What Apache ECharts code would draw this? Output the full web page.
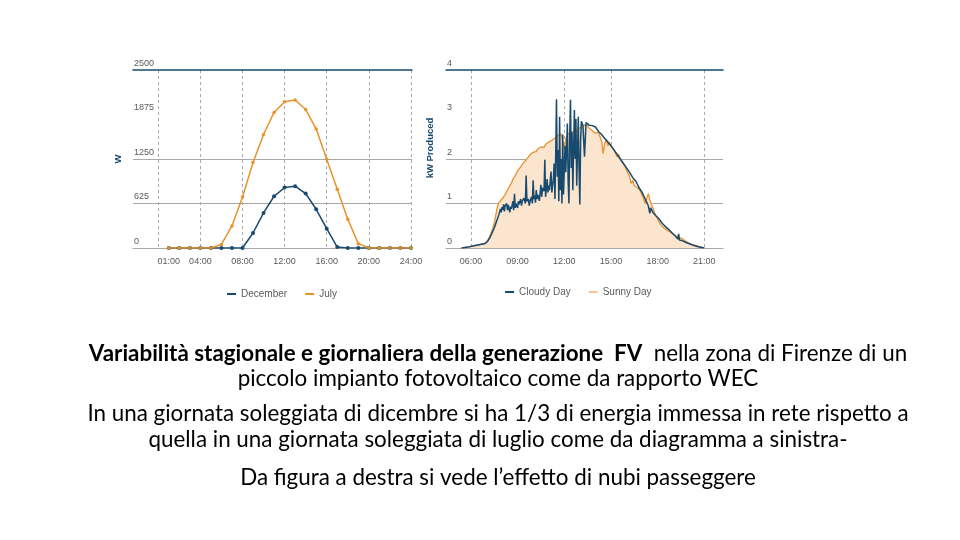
<!DOCTYPE html>
<html>
<head>
<meta charset="utf-8">
<script src="https://cdn.jsdelivr.net/npm/echarts@6.0.0/dist/echarts.min.js"></script>
<style>
  html, body { margin: 0; padding: 0; background: #ffffff; }
  #chart { width: 960px; height: 540px; }
</style>
</head>
<body>
<div id="chart"></div>
<script>
  // grafico a sinistra: produzione oraria (W)
  const hours = [1, 2, 3, 4, 5, 6, 7, 8, 9, 10, 11, 12, 13, 14, 15, 16, 17, 18, 19, 20, 21, 22, 23, 24];
  const december = [0, 0, 0, 0, 0, 0, 0, 0, 211, 493, 727, 849, 868, 765, 544, 272, 14, 0, 0, 0, 0, 0, 0, 0];
  const july = [0, 0, 0, 0, 0, 50, 310, 717, 1200, 1594, 1904, 2054, 2078, 1946, 1670, 1248, 826, 403, 61, 0, 0, 0, 0, 0];
  const leftYTicks = [0, 625, 1250, 1875, 2500];
  const leftXLabels = [1, 4, 8, 12, 16, 20, 24];
  const leftXLines = [0, 4, 8, 12, 16, 20, 24];

  // grafico a destra: kW prodotti, giornata serena / nuvolosa
  const sunnyTime = [5.4, 5.8, 6.2, 6.6, 6.9, 7.05, 7.2, 7.35, 7.5, 7.62, 7.72, 7.8, 7.9, 8.0, 8.1, 8.2, 8.3, 8.4, 8.5, 8.6,
    8.7, 8.8, 8.9, 9.0, 9.1, 9.2, 9.3, 9.4, 9.5, 9.6, 9.7, 9.8, 9.9, 10.0, 10.1, 10.2, 10.3, 10.4, 10.5, 10.6,
    10.7, 10.8, 10.9, 11.0, 11.1, 11.2, 11.3, 11.4, 11.5, 11.6, 11.7, 11.8, 11.9, 12.0, 12.1, 12.2, 12.3, 12.4, 12.5, 12.6,
    12.7, 12.8, 12.9, 13.0, 13.1, 13.2, 13.3, 13.4, 13.5, 13.6, 13.7, 13.8, 13.9, 14.0, 14.1, 14.2, 14.3, 14.4, 14.5, 14.6,
    14.7, 14.8, 14.9, 15.0, 15.1, 15.2, 15.3, 15.4, 15.5, 15.6, 15.7, 15.8, 15.9, 16.0, 16.1, 16.2, 16.3, 16.4, 16.5, 16.6,
    16.7, 16.8, 16.9, 17.0, 17.1, 17.2, 17.3, 17.4, 17.5, 17.6, 17.7, 17.8, 17.9, 18.0, 18.1, 18.2, 18.3, 18.4, 18.5, 18.6,
    18.7, 18.8, 18.9, 19.0, 19.2, 19.4, 19.6, 19.8, 20.0, 20.3, 20.6, 21.0];
  const sunnyKw = [0, 0.02, 0.05, 0.08, 0.10, 0.15, 0.25, 0.38, 0.55, 0.78, 0.95, 1.02, 1.06, 1.10, 1.14, 1.20, 1.27, 1.31, 1.40, 1.45,
    1.55, 1.60, 1.66, 1.74, 1.78, 1.82, 1.88, 1.92, 1.96, 2.00, 2.05, 2.10, 2.12, 2.15, 2.19, 2.17, 2.23, 2.21, 2.27, 2.30,
    2.26, 2.33, 2.35, 2.38, 2.36, 2.42, 2.40, 2.47, 2.44, 2.53, 2.50, 2.56, 2.40, 2.22, 2.45, 2.55, 2.52, 2.60, 2.57, 2.62,
    2.66, 2.60, 2.68, 2.65, 2.72, 2.70, 2.76, 2.72, 2.75, 2.69, 2.71, 2.64, 2.62, 2.58, 2.55, 2.60, 2.50, 2.40, 2.12, 2.35,
    2.45, 2.30, 2.38, 2.28, 2.32, 2.22, 2.12, 2.05, 2.10, 2.00, 1.95, 1.92, 1.84, 1.75, 1.72, 1.60, 1.45, 1.52, 1.40, 1.44,
    1.36, 1.34, 1.28, 1.18, 1.10, 1.00, 1.12, 1.22, 1.08, 0.98, 0.90, 0.80, 0.72, 0.66, 0.58, 0.52, 0.56, 0.45, 0.48, 0.40,
    0.37, 0.36, 0.33, 0.31, 0.27, 0.24, 0.20, 0.15, 0.11, 0.07, 0.04, 0];
  const cloudyTime = [5.4, 5.8, 6.2, 6.6, 6.9, 7.05, 7.2, 7.35, 7.5, 7.6, 7.7, 7.8, 7.9, 7.95, 8.0, 8.05, 8.1, 8.15, 8.2, 8.3,
    8.35, 8.4, 8.5, 8.55, 8.6, 8.7, 8.75, 8.8, 8.85, 8.9, 9.0, 9.05, 9.1, 9.2, 9.25, 9.3, 9.4, 9.5, 9.55, 9.6,
    9.7, 9.75, 9.8, 9.9, 9.95, 10.0, 10.05, 10.1, 10.15, 10.2, 10.25, 10.3, 10.4, 10.5, 10.55, 10.6, 10.7, 10.75, 10.8, 10.9,
    10.95, 11.0, 11.05, 11.15, 11.2, 11.3, 11.35, 11.4, 11.45, 11.5, 11.55, 11.6, 11.65, 11.7, 11.75, 11.8, 11.85, 11.9, 11.95, 12.05,
    12.1, 12.2, 12.25, 12.3, 12.35, 12.4, 12.45, 12.5, 12.55, 12.65, 12.7, 12.75, 12.8, 12.9, 12.95, 13.0, 13.05, 13.1, 13.2, 13.3,
    13.4, 13.5, 13.6, 13.8, 14.0, 14.2, 14.4, 14.6, 14.8, 15.0, 15.2, 15.4, 15.6, 15.8, 16.0, 16.2, 16.4, 16.6, 16.8, 17.0,
    17.2, 17.4, 17.5, 17.55, 17.7, 17.9, 18.1, 18.3, 18.5, 18.7, 18.9, 19.1, 19.3, 19.35, 19.4, 19.6, 19.8, 20.0, 20.3, 20.6, 21.0];
  const cloudyKw = [0, 0.02, 0.05, 0.08, 0.10, 0.14, 0.22, 0.33, 0.45, 0.55, 0.65, 0.75, 0.88, 0.80, 0.92, 0.86, 0.98, 0.82, 0.95, 1.00,
    0.85, 0.97, 0.80, 0.93, 0.88, 1.05, 0.85, 1.22, 0.90, 1.00, 0.90, 1.05, 0.98, 1.10, 0.95, 1.05, 1.12, 1.00, 1.63, 1.05,
    1.10, 0.95, 1.05, 1.15, 1.00, 1.52, 1.10, 1.18, 1.02, 1.30, 1.10, 1.20, 1.06, 1.42, 1.15, 1.35, 1.28, 1.98, 1.15, 1.55,
    1.25, 1.40, 1.30, 1.72, 1.25, 1.55, 1.90, 1.10, 2.10, 3.34, 1.60, 2.20, 1.05, 2.95, 1.30, 2.00, 1.00, 2.55, 1.20, 2.30,
    1.70, 2.80, 1.50, 1.00, 2.50, 3.33, 1.80, 2.60, 1.30, 3.10, 2.00, 2.90, 1.40, 2.95, 1.80, 0.98, 2.40, 2.85, 2.75, 2.05,
    2.82, 2.80, 2.76, 2.75, 2.72, 2.62, 2.55, 2.46, 2.38, 2.30, 2.20, 2.10, 2.00, 1.90, 1.80, 1.70, 1.58, 1.50, 1.36, 1.25,
    1.10, 0.95, 0.78, 0.90, 0.80, 0.72, 0.65, 0.55, 0.48, 0.42, 0.35, 0.28, 0.20, 0.32, 0.18, 0.16, 0.13, 0.10, 0.06, 0.03, 0];
  const rightYTicks = [0, 1, 2, 3, 4];
  const rightXLabels = [6, 9, 12, 15, 18, 21];
  const rightXLines = [6, 12, 15, 21];

  const BLUE = '#174a6e';
  const ORANGE = '#e8922b';
  const GRID = '#a8a8a8';
  const LABEL = '#5a5a5a';

  const pair = (xs, ys) => xs.map((x, i) => [x, ys[i]]);
  const hh = (v) => (v < 10 ? '0' : '') + v + ':00';

  const chart = echarts.init(document.getElementById('chart'));

  const xBottom = (idx, min, max, labels, lines) => ({
    type: 'value',
    gridIndex: idx,
    min: min,
    max: max,
    axisLine: { show: true, lineStyle: { color: GRID, width: 1 } },
    axisTick: { show: false, customValues: lines },
    axisLabel: {
      customValues: labels,
      formatter: hh,
      color: LABEL,
      fontSize: 9,
      fontFamily: 'Liberation Sans',
      margin: 9,
    },
    splitLine: { show: true, lineStyle: { color: GRID, type: [3, 3], width: 1 } },
  });
  // linea scura in alto
  const xTop = (idx, min, max) => ({
    type: 'value',
    gridIndex: idx,
    position: 'top',
    min: min,
    max: max,
    axisLine: { show: true, lineStyle: { color: BLUE, width: 1.5 } },
    axisTick: { show: false },
    axisLabel: { show: false },
    splitLine: { show: false },
  });
  const yAxis = (idx, ticks, name, gap, namePad) => ({
    type: 'value',
    gridIndex: idx,
    min: ticks[0],
    max: ticks[ticks.length - 1],
    interval: ticks[1] - ticks[0],
    name: name,
    nameLocation: 'middle',
    nameRotate: 90,
    nameGap: gap,
    nameTextStyle: {
      color: BLUE, fontSize: 9.5, fontWeight: 'bold', fontFamily: 'Liberation Sans', padding: namePad,
    },
    axisLine: { show: false },
    axisTick: { show: false },
    axisLabel: {
      inside: true,
      margin: 1,
      verticalAlign: 'bottom',
      formatter: (v) => String(v),
      color: LABEL,
      fontSize: 9,
      fontFamily: 'Liberation Sans',
      padding: [0, 0, 2, 0],
    },
    // la griglia in alto e' disegnata dall'asse superiore, la penultima non c'e'
    splitLine: {
      show: true,
      lineStyle: { color: [GRID, GRID, GRID, 'rgba(0,0,0,0)', 'rgba(0,0,0,0)'], width: 1 },
    },
  });

  const bodyFont = 'Lato, "Open Sans", sans-serif';
  const FS = 22.4;
  const textLine = (y, text) => ({
    type: 'text',
    x: 498,
    y: y,
    style: {
      text: text,
      x: 0,
      y: 0,
      textAlign: 'center',
      textVerticalAlign: 'middle',
      fill: '#000',
      font: FS + 'px ' + bodyFont,
      rich: {
        b: { fontWeight: 'bold', fontSize: FS, fontFamily: bodyFont, fill: '#000' },
        n: { fontSize: FS, fontFamily: bodyFont, fill: '#000' },
      },
    },
  });

  chart.setOption({
    animation: false,
    backgroundColor: '#ffffff',
    grid: [
      { left: 133, top: 70, width: 279, height: 178 },
      { left: 446, top: 70, width: 277, height: 178 },
    ],
    legend: [
      {
        data: ['December', 'July'],
        left: 222,
        top: 284,
        icon: 'rect',
        itemWidth: 9,
        itemHeight: 2,
        itemGap: 18,
        textStyle: { color: LABEL, fontSize: 10, fontFamily: 'Liberation Sans' },
      },
      {
        data: ['Cloudy Day', 'Sunny Day'],
        left: 500,
        top: 282,
        icon: 'rect',
        itemWidth: 9,
        itemHeight: 2,
        itemGap: 18,
        textStyle: { color: LABEL, fontSize: 10, fontFamily: 'Liberation Sans' },
      },
    ],
    xAxis: [
      xBottom(0, -2.4, 24.1, leftXLabels, leftXLines),
      xBottom(1, 4.4, 22.2, rightXLabels, rightXLines),
      xTop(0, -2.4, 24.1),
      xTop(1, 4.4, 22.2),
    ],
    yAxis: [
      yAxis(0, leftYTicks, 'W', 10, [0, 0, 0, 0]),
      yAxis(1, rightYTicks, 'kW Produced', 11, [0, 0, 0, 22]),
    ],
    series: [
      {
        name: 'December',
        type: 'line',
        xAxisIndex: 0,
        yAxisIndex: 0,
        data: pair(hours, december),
        symbol: 'circle',
        symbolSize: 4,
        lineStyle: { color: BLUE, width: 1.5 },
        itemStyle: { color: BLUE },
      },
      {
        name: 'July',
        type: 'line',
        xAxisIndex: 0,
        yAxisIndex: 0,
        data: pair(hours, july),
        symbol: 'circle',
        symbolSize: 3.5,
        lineStyle: { color: ORANGE, width: 1.5 },
        itemStyle: { color: ORANGE },
      },
      {
        name: 'Sunny Day',
        type: 'line',
        xAxisIndex: 1,
        yAxisIndex: 1,
        data: pair(sunnyTime, sunnyKw),
        showSymbol: false,
        lineStyle: { color: ORANGE, width: 1.3 },
        itemStyle: { color: '#f4c590' },
        areaStyle: { color: '#fce5cf', opacity: 1 },
        z: 2,
      },
      {
        name: 'Cloudy Day',
        type: 'line',
        xAxisIndex: 1,
        yAxisIndex: 1,
        data: pair(cloudyTime, cloudyKw),
        showSymbol: false,
        lineStyle: { color: BLUE, width: 1.5 },
        itemStyle: { color: BLUE },
        z: 3,
      },
    ],
    graphic: [
      textLine(354, '{b|Variabilità stagionale e giornaliera della generazione  FV}{n|  nella zona di Firenze di un}'),
      textLine(379, '{n|piccolo impianto fotovoltaico come da rapporto WEC}'),
      textLine(414, '{n|In una giornata soleggiata di dicembre si ha 1/3 di energia immessa in rete rispetto a}'),
      textLine(440, '{n|quella in una giornata soleggiata di luglio come da diagramma a sinistra-}'),
      textLine(478, '{n|Da figura a destra si vede l’effetto di nubi passeggere}'),
    ],
  });

  window.addEventListener('resize', function () {
    chart && chart.resize();
  });
</script>
</body>
</html>
